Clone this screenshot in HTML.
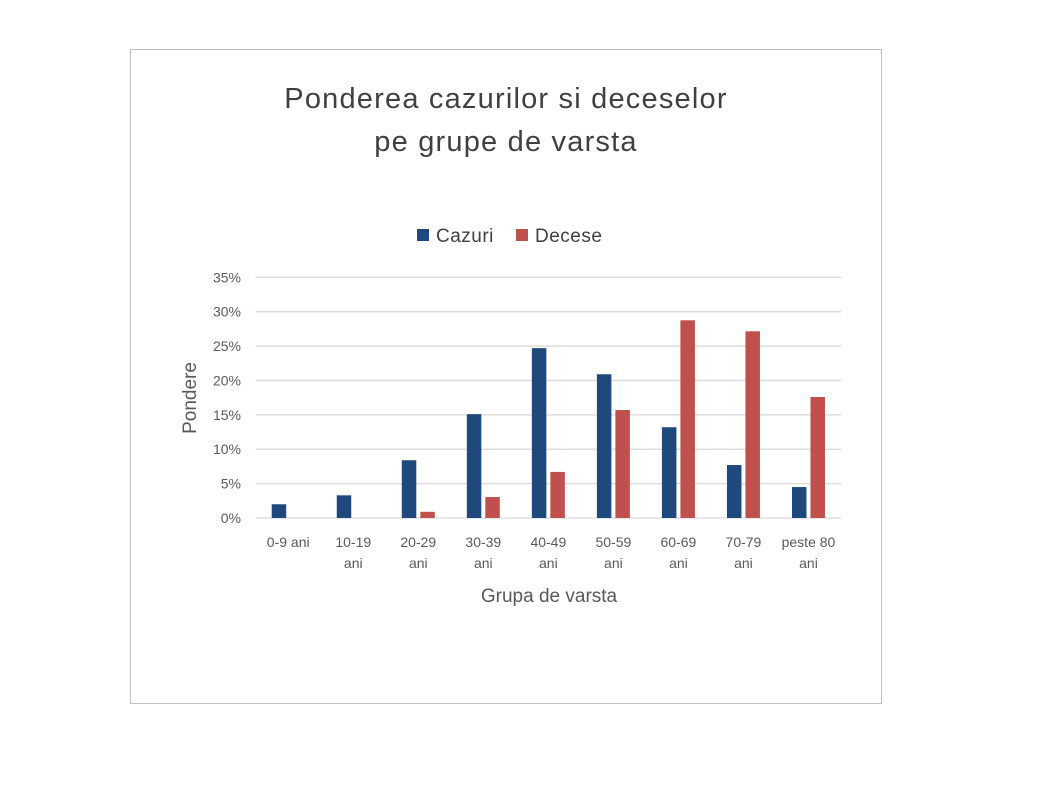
<!DOCTYPE html>
<html><head><meta charset="utf-8"><style>
body{margin:0;background:#fff;width:1052px;height:790px;overflow:hidden;font-family:"Liberation Sans",sans-serif}
</style></head><body>
<svg width="1052" height="790">
<rect x="130.5" y="49.5" width="751" height="654" fill="#fff" stroke="#bfbfbf"/>
<text x="506" y="108" text-anchor="middle" font-size="29" letter-spacing="1.2" fill="#404040">Ponderea cazurilor si deceselor</text>
<text x="506" y="151" text-anchor="middle" font-size="29" letter-spacing="1.2" fill="#404040">pe grupe de varsta</text>
<g>
<rect x="417" y="229" width="12" height="12" fill="#1f497d"/>
<text x="436" y="242" font-size="19" letter-spacing="0.5" fill="#404040">Cazuri</text>
<rect x="516" y="229" width="12" height="12" fill="#c0504d"/>
<text x="535" y="242" font-size="19" letter-spacing="0.5" fill="#404040">Decese</text>
</g>
<g id="grid"></g><g id="bars"></g><g id="labels"></g>
<text transform="translate(196,398) rotate(-90)" text-anchor="middle" font-size="19" fill="#595959">Pondere</text>
<text x="549" y="602" text-anchor="middle" font-size="19" fill="#595959">Grupa de varsta</text>
</svg>
<script>
const categories=[["0-9 ani"],["10-19","ani"],["20-29","ani"],["30-39","ani"],["40-49","ani"],["50-59","ani"],["60-69","ani"],["70-79","ani"],["peste 80","ani"]];
const cazuri=[2.0,3.3,8.4,15.1,24.7,20.9,13.2,7.7,4.5];
const decese=[0,0,0.9,3.05,6.7,15.7,28.75,27.15,17.6];
const yTicks=[0,5,10,15,20,25,30,35];
const NS="http://www.w3.org/2000/svg";
const L=255.7,R=841,Y0=518,Y35=277.3;
const y=v=>Y0-(v/35)*(Y0-Y35);
const cw=(R-L)/categories.length;
const cx=i=>L+cw*(i+0.5);
function mk(t,a,p){const e=document.createElementNS(NS,t);for(const k in a)e.setAttribute(k,a[k]);document.getElementById(p).appendChild(e);return e;}
yTicks.forEach(v=>{
 const l=mk('line',{x1:L,x2:R,y1:y(v),y2:y(v),stroke:'#d9d9d9','stroke-width':1.3},'grid');
 
 
 const t=mk('text',{x:241,y:y(v)+5,'text-anchor':'end','font-size':14,fill:'#595959'},'labels');
 t.textContent=v+'%';
 
 
});
const bw=14.5,gap=4;
categories.forEach((c,i)=>{
 const b=mk('rect',{x:cx(i)-bw-gap/2,y:y(cazuri[i]),width:bw,height:Y0-y(cazuri[i]),fill:'#1f497d'},'bars');
 
 
 const r=mk('rect',{x:cx(i)+gap/2,y:y(decese[i]),width:bw,height:Y0-y(decese[i]),fill:'#c0504d'},'bars');
 
 
 c.forEach((s,j)=>{
  const t=mk('text',{x:cx(i),y:547+j*21,'text-anchor':'middle','font-size':14,fill:'#595959'},'labels');
  t.textContent=s;
  
  
 });
});
</script>
</body></html>
